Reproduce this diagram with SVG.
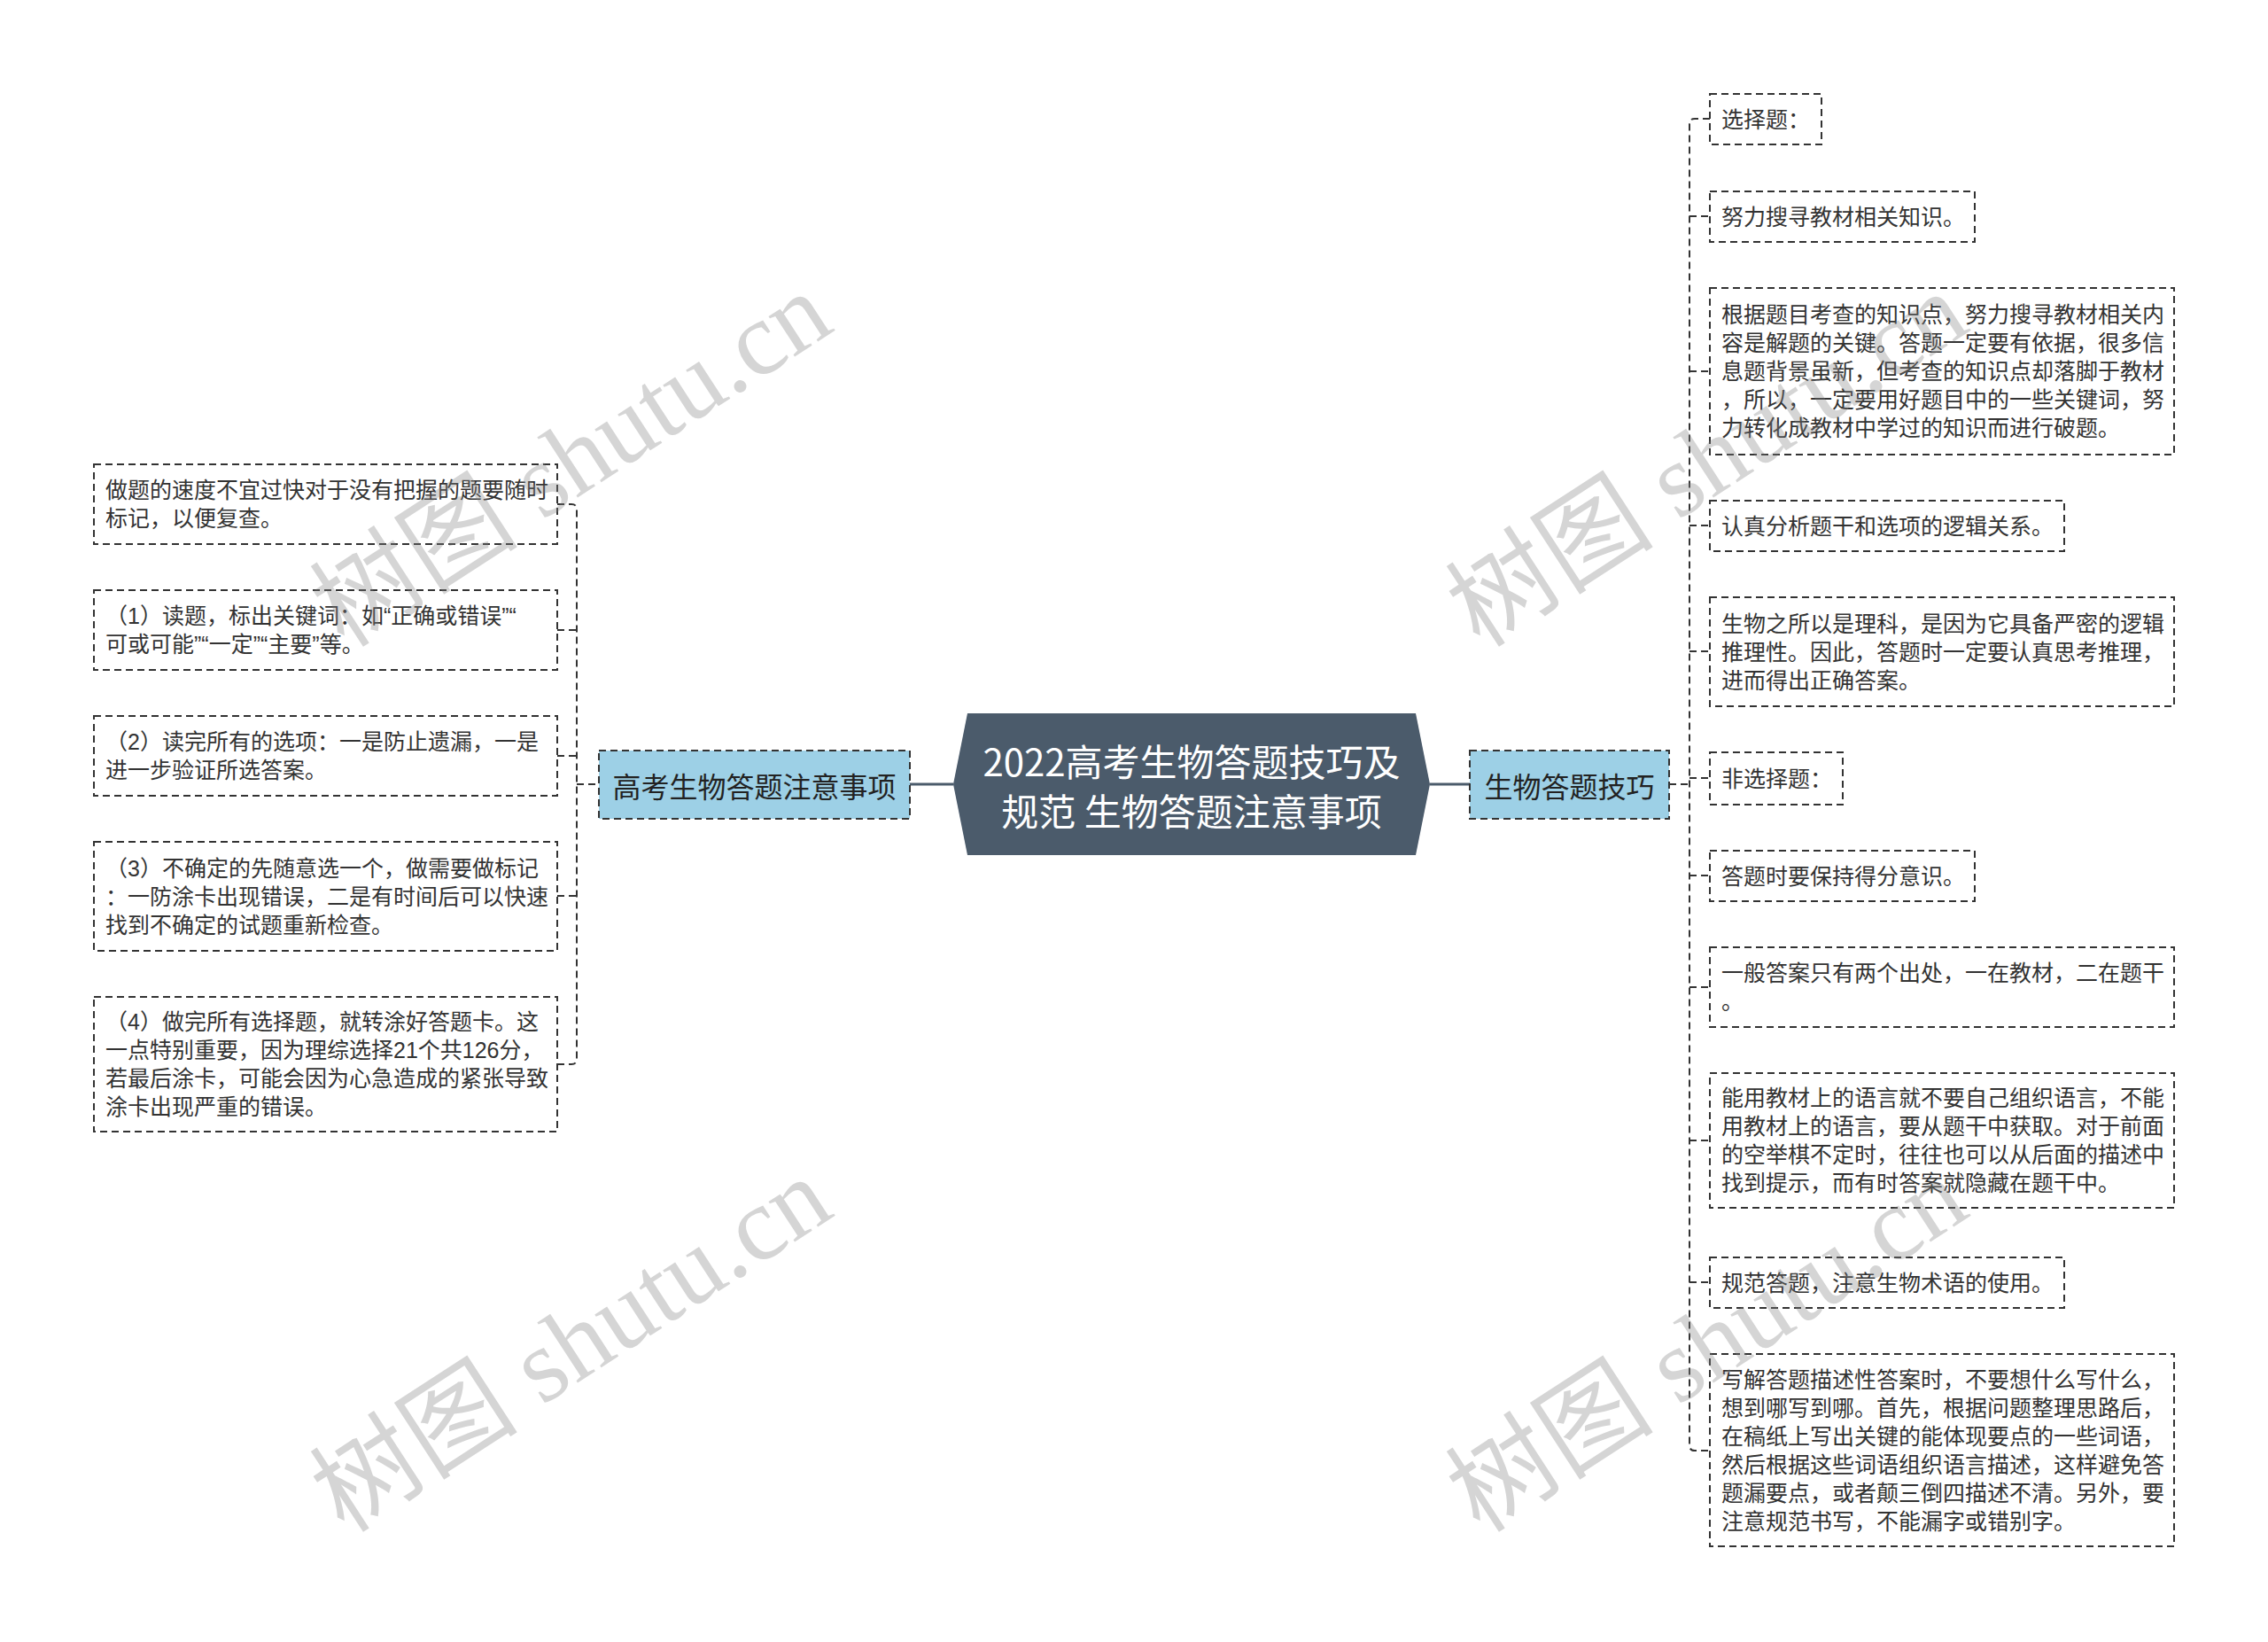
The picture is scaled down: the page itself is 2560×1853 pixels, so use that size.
<svg xmlns="http://www.w3.org/2000/svg" width="2560" height="1853" viewBox="0 0 2560 1853">
<style>
.leaf{fill:#ffffff;stroke:#333333;stroke-width:2;stroke-dasharray:8 5}
.main{fill:#9dd0e6;stroke:#333333;stroke-width:2;stroke-dasharray:8 5}
.lt{font-family:"Liberation Sans","Noto Sans CJK SC",sans-serif;font-size:25px;fill:#333333;dominant-baseline:central}
.mt{font-family:"Noto Sans CJK SC","Noto Sans",sans-serif;font-size:32px;fill:#222222;dominant-baseline:central;text-anchor:middle}
.rt{font-family:"Noto Sans CJK SC","Noto Sans",sans-serif;font-size:42px;fill:#ffffff;dominant-baseline:central;text-anchor:middle}
.dash{fill:none;stroke:#333333;stroke-width:2;stroke-dasharray:8 5}
.solid{fill:none;stroke:#4b5b6b;stroke-width:3}
.wm{font-family:"Liberation Serif","Noto Sans CJK SC",serif;font-size:118px;fill:#808080;fill-opacity:0.33;text-anchor:middle;dominant-baseline:central}
</style>
<rect width="2560" height="1853" fill="#ffffff"/>
<g id="connectors">
<line class="solid" x1="1027" y1="885" x2="1076" y2="885"/>
<line class="solid" x1="1614" y1="885" x2="1659" y2="885"/>
<path class="dash" d="M629 569 H645 Q651 569 651 575 V1195 Q651 1201 645 1201 H629"/>
<line class="dash" x1="651" y1="885" x2="676" y2="885"/>
<line class="dash" x1="629" y1="711" x2="651" y2="711"/>
<line class="dash" x1="629" y1="853" x2="651" y2="853"/>
<line class="dash" x1="629" y1="1011" x2="651" y2="1011"/>
<path class="dash" d="M1930 134 H1913 Q1907 134 1907 140 V1631 Q1907 1637 1913 1637 H1930"/>
<line class="dash" x1="1884" y1="885" x2="1907" y2="885"/>
<line class="dash" x1="1907" y1="244" x2="1930" y2="244"/>
<line class="dash" x1="1907" y1="419" x2="1930" y2="419"/>
<line class="dash" x1="1907" y1="593" x2="1930" y2="593"/>
<line class="dash" x1="1907" y1="735" x2="1930" y2="735"/>
<line class="dash" x1="1907" y1="878" x2="1930" y2="878"/>
<line class="dash" x1="1907" y1="988" x2="1930" y2="988"/>
<line class="dash" x1="1907" y1="1114" x2="1930" y2="1114"/>
<line class="dash" x1="1907" y1="1287" x2="1930" y2="1287"/>
<line class="dash" x1="1907" y1="1447" x2="1930" y2="1447"/>
</g>
<g id="root">
<polygon points="1076,885 1092,805 1598,805 1614,885 1598,965 1092,965" fill="#4b5b6b"/>
<text class="rt" x="1345" y="857">2022高考生物答题技巧及</text>
<text class="rt" x="1345" y="913">规范 生物答题注意事项</text>
</g>
<g id="main-left">
<rect class="main" x="676" y="847" width="351" height="77"/>
<text class="mt" x="851.5" y="885.5">高考生物答题注意事项</text>
</g>
<g id="main-right">
<rect class="main" x="1659" y="847" width="225" height="77"/>
<text class="mt" x="1771.5" y="885.5">生物答题技巧</text>
</g>
<g id="l1">
<rect class="leaf" x="106" y="524" width="523" height="90"/>
<text class="lt" x="119" y="553">做题的速度不宜过快对于没有把握的题要随时</text>
<text class="lt" x="119" y="585">标记，以便复查。</text>
</g>
<g id="l2">
<rect class="leaf" x="106" y="666" width="523" height="90"/>
<text class="lt" x="119" y="695">（1）读题，标出关键词：如“正确或错误”“</text>
<text class="lt" x="119" y="727">可或可能”“一定”“主要”等。</text>
</g>
<g id="l3">
<rect class="leaf" x="106" y="808" width="523" height="90"/>
<text class="lt" x="119" y="837">（2）读完所有的选项：一是防止遗漏，一是</text>
<text class="lt" x="119" y="869">进一步验证所选答案。</text>
</g>
<g id="l4">
<rect class="leaf" x="106" y="950" width="523" height="123"/>
<text class="lt" x="119" y="979.5">（3）不确定的先随意选一个，做需要做标记</text>
<text class="lt" x="119" y="1011.5">：一防涂卡出现错误，二是有时间后可以快速</text>
<text class="lt" x="119" y="1043.5">找到不确定的试题重新检查。</text>
</g>
<g id="l5">
<rect class="leaf" x="106" y="1125" width="523" height="152"/>
<text class="lt" x="119" y="1153">（4）做完所有选择题，就转涂好答题卡。这</text>
<text class="lt" x="119" y="1185">一点特别重要，因为理综选择21个共126分，</text>
<text class="lt" x="119" y="1217">若最后涂卡，可能会因为心急造成的紧张导致</text>
<text class="lt" x="119" y="1249">涂卡出现严重的错误。</text>
</g>
<g id="r1">
<rect class="leaf" x="1930" y="106" width="126" height="57"/>
<text class="lt" x="1943" y="134.5">选择题：</text>
</g>
<g id="r2">
<rect class="leaf" x="1930" y="216" width="299" height="57"/>
<text class="lt" x="1943" y="244.5">努力搜寻教材相关知识。</text>
</g>
<g id="r3">
<rect class="leaf" x="1930" y="325" width="524" height="188"/>
<text class="lt" x="1943" y="355">根据题目考查的知识点，努力搜寻教材相关内</text>
<text class="lt" x="1943" y="387">容是解题的关键。答题一定要有依据，很多信</text>
<text class="lt" x="1943" y="419">息题背景虽新，但考查的知识点却落脚于教材</text>
<text class="lt" x="1943" y="451">，所以，一定要用好题目中的一些关键词，努</text>
<text class="lt" x="1943" y="483">力转化成教材中学过的知识而进行破题。</text>
</g>
<g id="r4">
<rect class="leaf" x="1930" y="565" width="400" height="57"/>
<text class="lt" x="1943" y="593.5">认真分析题干和选项的逻辑关系。</text>
</g>
<g id="r5">
<rect class="leaf" x="1930" y="674" width="524" height="123"/>
<text class="lt" x="1943" y="703.5">生物之所以是理科，是因为它具备严密的逻辑</text>
<text class="lt" x="1943" y="735.5">推理性。因此，答题时一定要认真思考推理，</text>
<text class="lt" x="1943" y="767.5">进而得出正确答案。</text>
</g>
<g id="r6">
<rect class="leaf" x="1930" y="849" width="150" height="59"/>
<text class="lt" x="1943" y="878.5">非选择题：</text>
</g>
<g id="r7">
<rect class="leaf" x="1930" y="960" width="299" height="57"/>
<text class="lt" x="1943" y="988.5">答题时要保持得分意识。</text>
</g>
<g id="r8">
<rect class="leaf" x="1930" y="1069" width="524" height="90"/>
<text class="lt" x="1943" y="1098">一般答案只有两个出处，一在教材，二在题干</text>
<text class="lt" x="1943" y="1130">。</text>
</g>
<g id="r9">
<rect class="leaf" x="1930" y="1211" width="524" height="152"/>
<text class="lt" x="1943" y="1239">能用教材上的语言就不要自己组织语言，不能</text>
<text class="lt" x="1943" y="1271">用教材上的语言，要从题干中获取。对于前面</text>
<text class="lt" x="1943" y="1303">的空举棋不定时，往往也可以从后面的描述中</text>
<text class="lt" x="1943" y="1335">找到提示，而有时答案就隐藏在题干中。</text>
</g>
<g id="r10">
<rect class="leaf" x="1930" y="1419" width="400" height="57"/>
<text class="lt" x="1943" y="1447.5">规范答题，注意生物术语的使用。</text>
</g>
<g id="r11">
<rect class="leaf" x="1930" y="1528" width="524" height="217"/>
<text class="lt" x="1943" y="1557">写解答题描述性答案时，不要想什么写什么，</text>
<text class="lt" x="1943" y="1589">想到哪写到哪。首先，根据问题整理思路后，</text>
<text class="lt" x="1943" y="1621">在稿纸上写出关键的能体现要点的一些词语，</text>
<text class="lt" x="1943" y="1653">然后根据这些词语组织语言描述，这样避免答</text>
<text class="lt" x="1943" y="1685">题漏要点，或者颠三倒四描述不清。另外，要</text>
<text class="lt" x="1943" y="1717">注意规范书写，不能漏字或错别字。</text>
</g>
<g id="watermarks">
<text class="wm" transform="translate(645,519) rotate(-33)">树图 shutu.cn</text>
<text class="wm" transform="translate(645,1518) rotate(-33)">树图 shutu.cn</text>
<text class="wm" transform="translate(1927,519) rotate(-33)">树图 shutu.cn</text>
<text class="wm" transform="translate(1927,1518) rotate(-33)">树图 shutu.cn</text>
</g>
</svg>
